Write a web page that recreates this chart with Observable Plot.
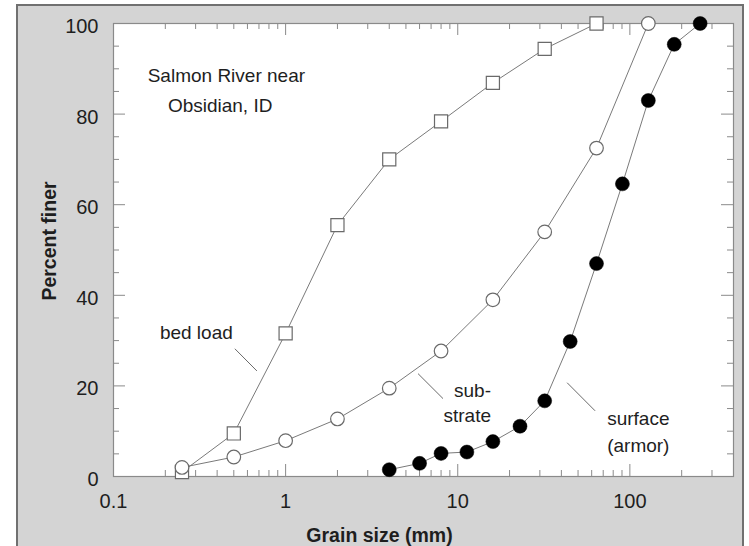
<!DOCTYPE html>
<html><head><meta charset="utf-8">
<script src="https://cdn.jsdelivr.net/npm/d3@7"></script>
<script src="https://cdn.jsdelivr.net/npm/@observablehq/plot@0.6"></script>
<style>
html,body{margin:0;padding:0;background:#fff;}
#wrap{position:relative;width:749px;height:546px;overflow:hidden;}
#panel{position:absolute;left:16px;top:4px;width:724px;height:600px;background:#d4d4d4;border:2px solid #707070;}
#chart{position:absolute;left:0;top:0;}
</style></head><body>
<div id="wrap"><div id="panel"></div><div id="chart"></div></div>
<script>
// ---- data (grain size in mm, percent finer) ----
const bedSizes = [0.25, 0.5, 1, 2, 4, 8, 16, 32, 64];
const bedLoad  = [1, 9.5, 31.6, 55.5, 70, 78.4, 86.9, 94.4, 100];
const subSizes = [0.25, 0.5, 1, 2, 4, 8, 16, 32, 64, 128];
const substrate = [2, 4.3, 7.9, 12.7, 19.5, 27.7, 39, 54, 72.5, 100];
const surfSizes = [4, 6, 8, 11.3, 16, 23, 32, 45, 64, 90.5, 128, 181, 256];
const surface   = [1.5, 2.9, 5.1, 5.4, 7.7, 11.1, 16.7, 29.8, 47, 64.6, 83, 95.4, 100];

const xTickLabels = [0.1, 1, 10, 100];
const xMajorTicks = [1, 10, 100];
const xMinorTicks = [0.2,0.3,0.4,0.5,0.6,0.7,0.8,0.9, 2,3,4,5,6,7,8,9, 20,30,40,50,60,70,80,90, 200,300];
const yTickLabels = [0, 20, 40, 60, 80, 100];
const yMajorTicks = [20, 40, 60, 80];
const yMinorTicks = [5,10,15,25,30,35,45,50,55,65,70,75,85,90,95];

const siteLines = ["Salmon River near", "Obsidian, ID"];
const seriesLabels = ["bed load", "sub-", "strate", "surface", "(armor)"];
const xTitle = "Grain size (mm)";
const yTitle = "Percent finer";

const rows = (xs, ys) => xs.map((x, i) => ({size: x, pct: ys[i]}));
const bedRows = rows(bedSizes, bedLoad);
const subRows = rows(subSizes, substrate);
const surfRows = rows(surfSizes, surface);

const W = 749, H = 546, mL = 113, mR = 16, mT = 23, mB = 70;
const innerH = H - mT - mB, innerW = W - mL - mR;
const tickColor = "#8a8a8a";
const lineColor = "#7a7a7a";
const font = "'Liberation Sans', Arial, Helvetica, sans-serif";

// annotation placements (in data coordinates)
const startText = [
  {x: 0.158, y: 88.5, t: siteLines[0]},
  {x: 0.207, y: 81.9, t: siteLines[1]},
  {x: 0.186, y: 31.7, t: seriesLabels[0]},
  {x: 73.8, y: 12.8, t: seriesLabels[3]},
  {x: 73.8, y: 6.8, t: seriesLabels[4]}
];
const endText = [
  {x: 15.6, y: 18.9, t: seriesLabels[1]},
  {x: 15.6, y: 13.4, t: seriesLabels[2]}
];
const leaders = [
  {x1: 0.507, y1: 28.2, x2: 0.681, y2: 23.3},
  {x1: 5.88, y1: 22.7, x2: 8.21, y2: 17.2},
  {x1: 43.2, y1: 20.7, x2: 62.8, y2: 14.5}
];

const chart = Plot.plot({
  width: W, height: H,
  marginLeft: mL, marginRight: mR, marginTop: mT, marginBottom: mB,
  style: {background: "transparent", fontFamily: font, color: "#1e1e1e", overflow: "visible"},
  x: {type: "log", domain: [0.1, 400]},
  y: {domain: [0, 100]},
  marks: [
    Plot.frame({fill: "white", stroke: "none"}),
    // inward ticks on all four sides
    Plot.tickX(xMajorTicks, {x: d => d, insetTop: innerH - 12, stroke: tickColor}),
    Plot.tickX(xMinorTicks, {x: d => d, insetTop: innerH - 6, stroke: tickColor}),
    Plot.tickX(xMajorTicks, {x: d => d, insetBottom: innerH - 12, stroke: tickColor}),
    Plot.tickX(xMinorTicks, {x: d => d, insetBottom: innerH - 6, stroke: tickColor}),
    Plot.tickY(yMajorTicks, {y: d => d, insetRight: innerW - 12, stroke: tickColor}),
    Plot.tickY(yMinorTicks, {y: d => d, insetRight: innerW - 6, stroke: tickColor}),
    Plot.tickY(yMajorTicks, {y: d => d, insetLeft: innerW - 12, stroke: tickColor}),
    Plot.tickY(yMinorTicks, {y: d => d, insetLeft: innerW - 6, stroke: tickColor}),
    Plot.frame({stroke: "#8a8a8a", strokeWidth: 1.2}),
    Plot.axisX({ticks: xTickLabels, tickSize: 0, tickPadding: 17, fontSize: 20, label: null, tickFormat: d => String(d)}),
    Plot.axisY({ticks: yTickLabels, tickSize: 0, tickPadding: 15, fontSize: 20, dy: 3, label: null, tickFormat: d => String(d)}),
    // axis titles
    Plot.text([xTitle], {text: d => d, frameAnchor: "bottom", textAnchor: "middle", lineAnchor: "middle", dx: -44, dy: 59, fontSize: 19.5, fontWeight: "bold"}),
    Plot.text([yTitle], {text: d => d, frameAnchor: "left", textAnchor: "middle", lineAnchor: "middle", dx: -64, dy: -9, rotate: -90, fontSize: 19.5, fontWeight: "bold"}),
    // series lines
    Plot.line(bedRows, {x: "size", y: "pct", stroke: lineColor, strokeWidth: 1}),
    Plot.line(subRows, {x: "size", y: "pct", stroke: lineColor, strokeWidth: 1}),
    Plot.line(surfRows, {x: "size", y: "pct", stroke: lineColor, strokeWidth: 1}),
    // markers
    Plot.dot(bedRows, {x: "size", y: "pct", symbol: "square", r: 7.4, fill: "white", stroke: "#6a6a6a", strokeWidth: 1.2}),
    Plot.dot(subRows, {x: "size", y: "pct", symbol: "circle", r: 6.8, fill: "white", stroke: "#6a6a6a", strokeWidth: 1.2}),
    Plot.dot(surfRows, {x: "size", y: "pct", symbol: "circle", r: 7, fill: "black", stroke: "black", strokeWidth: 0.5}),
    // annotations
    Plot.link(leaders, {x1: "x1", y1: "y1", x2: "x2", y2: "y2", stroke: "#6a6a6a", strokeWidth: 1}),
    Plot.text(startText, {x: "x", y: "y", text: "t", textAnchor: "start", fontSize: 19, fill: "#1e1e1e"}),
    Plot.text(endText, {x: "x", y: "y", text: "t", textAnchor: "end", fontSize: 19, fill: "#1e1e1e"})
  ]
});
document.getElementById("chart").appendChild(chart);
</script>
</body></html>
